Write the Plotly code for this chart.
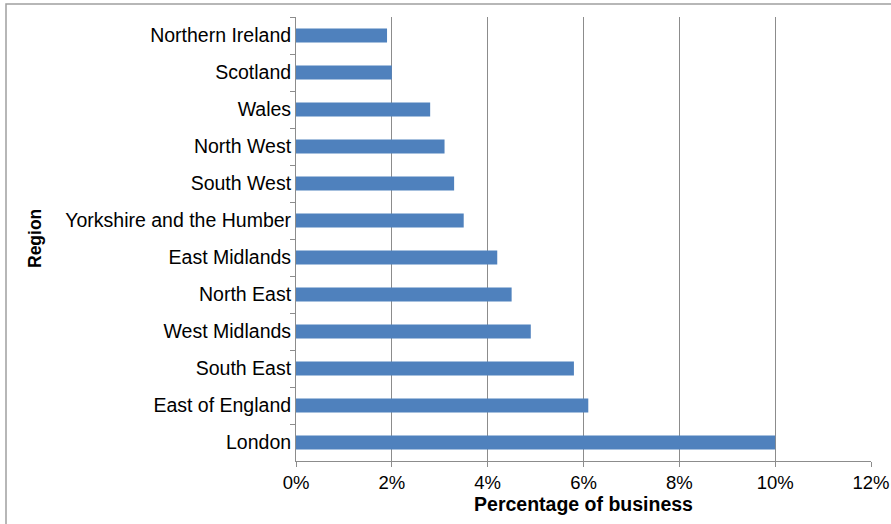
import plotly.graph_objects as go

# Share of businesses by UK region (percent), listed top to bottom
regions = [
    "Northern Ireland", "Scotland", "Wales", "North West", "South West",
    "Yorkshire and the Humber", "East Midlands", "North East", "West Midlands",
    "South East", "East of England", "London",
]
share_pct = [1.9, 2.0, 2.8, 3.1, 3.3, 3.5, 4.2, 4.5, 4.9, 5.8, 6.1, 10.0]

x_ticks = [0, 2, 4, 6, 8, 10, 12]
x_tick_text = [f"{v}%" for v in x_ticks]

grid_col = "#8c8c8c"
font_family = "Liberation Sans, Arial, sans-serif"

# plot area in pixels
L, R, T, B = 296, 20, 17, 63
W, H = 891, 524
pw, ph = W - L - R, H - T - B

fig = go.Figure(
    go.Bar(
        x=share_pct,
        y=regions,
        orientation="h",
        marker=dict(color="#4f81bd", line=dict(width=0)),
        width=0.38,
    )
)

fig.update_layout(
    width=W,
    height=H,
    margin=dict(l=L, r=R, t=T, b=B),
    paper_bgcolor="white",
    plot_bgcolor="white",
    showlegend=False,
    font=dict(family=font_family, size=17, color="#000000"),
    shapes=[
        dict(
            type="rect", xref="paper", yref="paper",
            x0=(6 - L) / pw, x1=(W + 10 - L) / pw,
            y0=(H - B - (H + 15)) / ph, y1=(H - B - 4) / ph,
            line=dict(color="#a0a0a0", width=1.5),
            fillcolor="rgba(0,0,0,0)", layer="below",
        )
    ],
    annotations=[
        dict(
            text="<b>Region</b>", xref="paper", yref="paper",
            x=(35 - L) / pw, y=0.5, xanchor="center", yanchor="middle",
            textangle=-90, showarrow=False, font=dict(size=17.5),
        )
    ],
)

fig.update_xaxes(
    range=[0, 12],
    tickvals=x_ticks,
    ticktext=x_tick_text,
    showgrid=True,
    gridcolor=grid_col,
    gridwidth=1,
    zeroline=False,
    showline=True,
    linecolor=grid_col,
    linewidth=1,
    ticks="outside",
    ticklen=5,
    tickcolor=grid_col,
    tickfont=dict(size=18.5),
    automargin=False,
    title=dict(text="<b>Percentage of business</b>", font=dict(size=19.5), standoff=5),
)

fig.update_yaxes(
    categoryorder="array",
    categoryarray=regions,
    autorange="reversed",
    showgrid=False,
    showline=True,
    linecolor=grid_col,
    linewidth=1,
    ticks="outside",
    ticklen=5,
    tickcolor=grid_col,
    tickson="boundaries",
    tickfont=dict(size=19.5),
    automargin=False,
)

fig.write_html("out.html")
